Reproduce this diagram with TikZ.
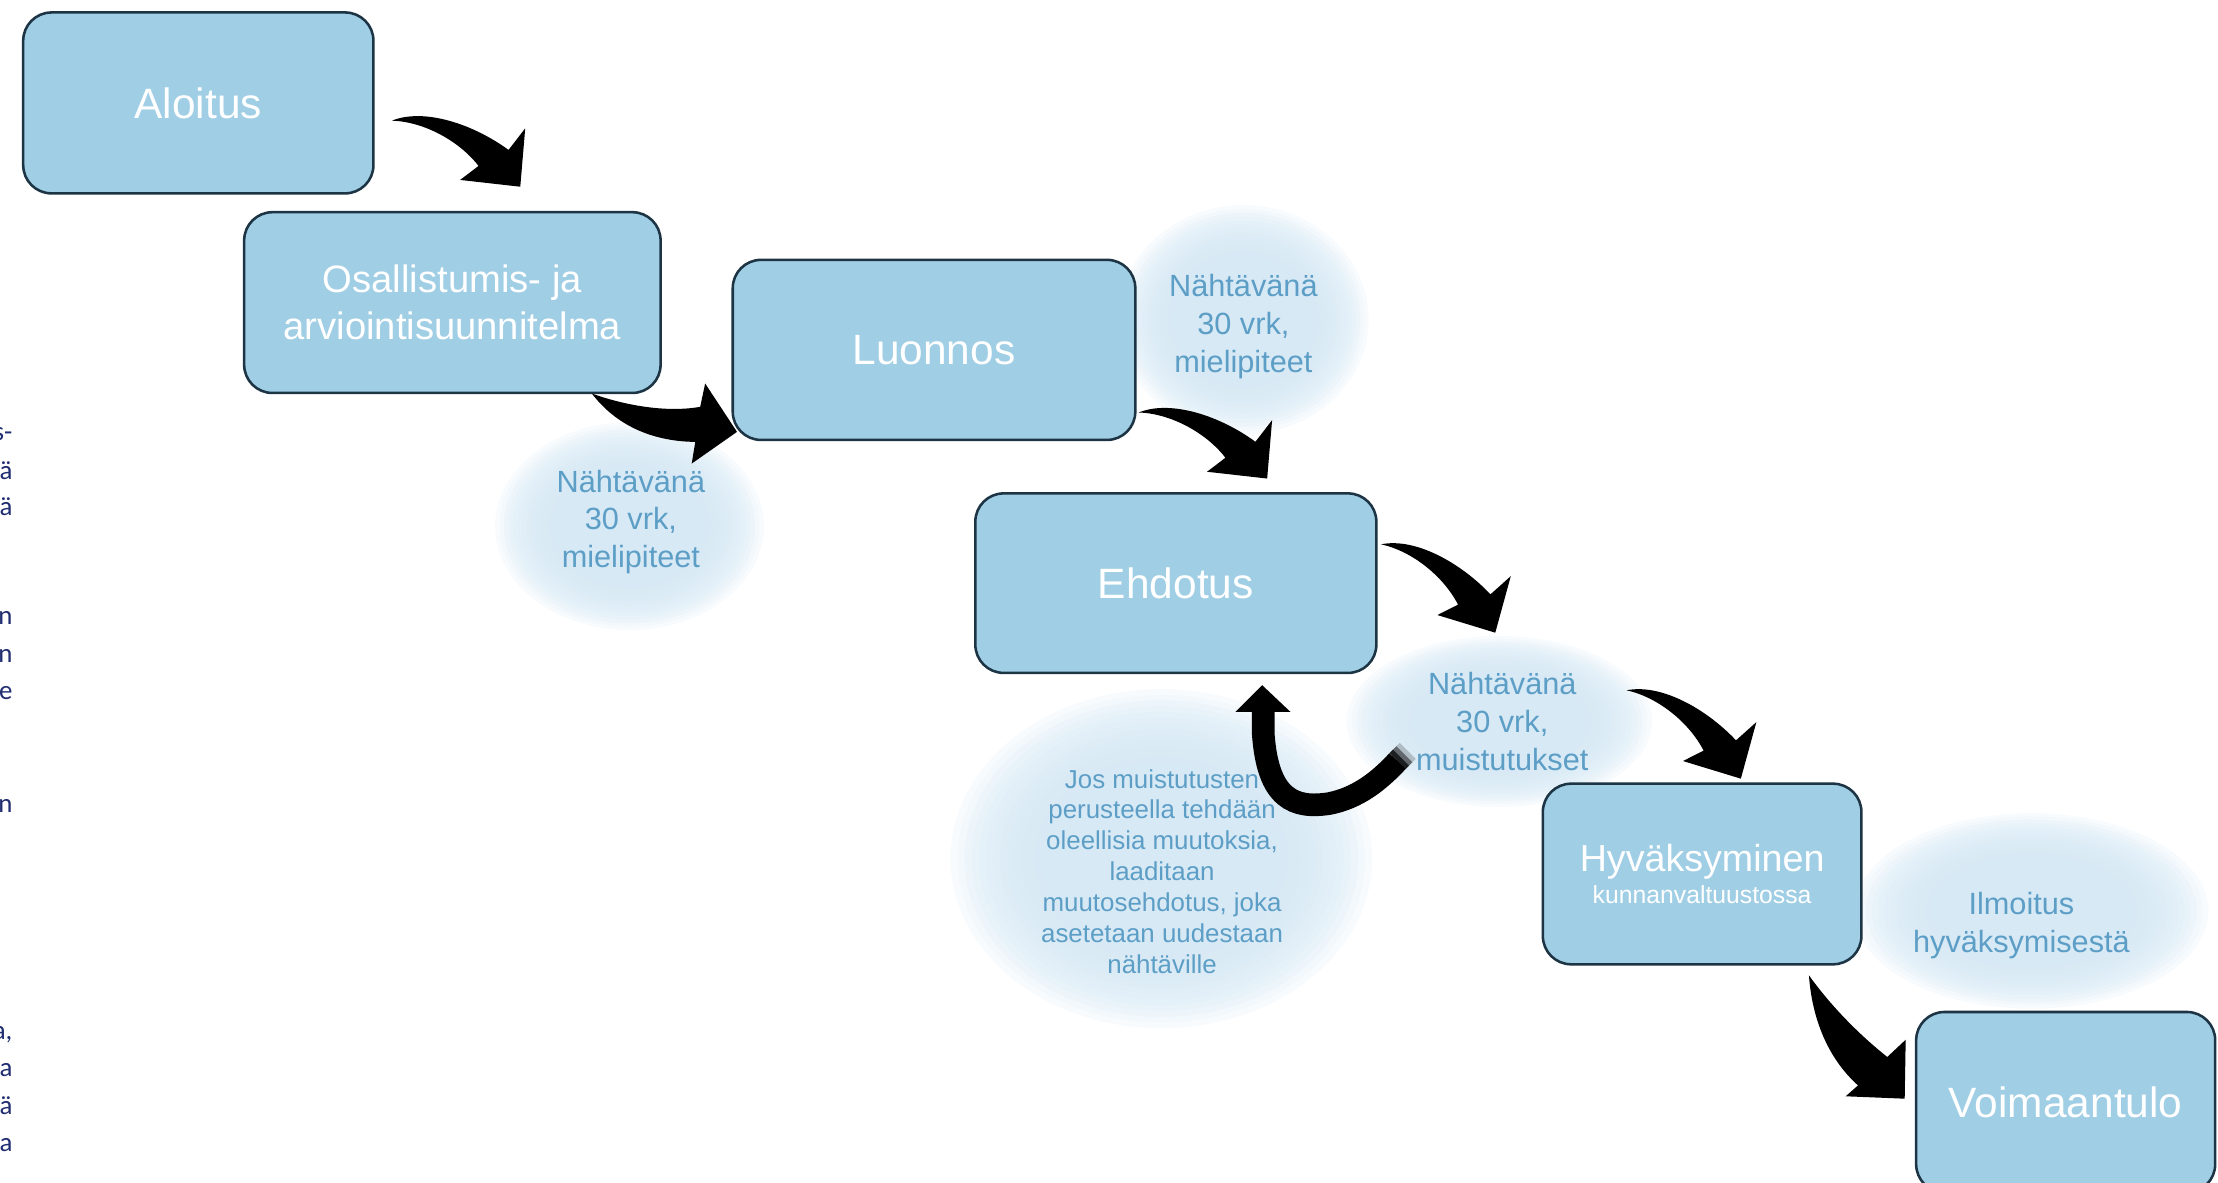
\documentclass[tikz,border=0pt]{standalone}
\usepackage{fontspec}
\setmainfont{Liberation Sans}
\newfontfamily\fragfont{Carlito}
\definecolor{boxfill}{RGB}{160,206,229}
\definecolor{boxline}{RGB}{28,52,68}
\definecolor{ellc}{RGB}{212,231,244}
\definecolor{elltext}{RGB}{92,158,198}
\definecolor{fragc}{RGB}{32,45,112}
% soft-edged ellipse: centre, x radius, y radius (in pt)
\newcommand\softellipse[3]{%
  \foreach \k in {0,...,13}{%
    \fill[ellc, opacity=0.17] #1 ellipse [x radius={#2*(1.08-0.036*\k)*1pt}, y radius={#3*(1.08-0.036*\k)*1pt}];
  }%
}
\tikzset{
  stage/.style={draw=boxline, line width=1.8pt, fill=boxfill, rounded corners=20pt,
    text=white, align=center, inner sep=0pt, font=\fontsize{30}{36}\selectfont},
  elltxt/.style={text=elltext, align=center, inner sep=0pt, font=\fontsize{21.7}{26.8}\selectfont},
  smalltxt/.style={text=elltext, align=center, inner sep=0pt, font=\fontsize{18.3}{21.8}\selectfont},
  frag/.style={text=fragc, anchor=mid east, inner sep=0pt, font=\fragfont\fontsize{19}{23}\selectfont},
  curvearrow/.pic={
    \fill[black] (0,0) .. controls (23,-9.3) and (58,2.7) .. (82.5,20.7)
      -- (94.3,5.4) -- (90.8,46.7) -- (48.3,41.9) -- (61.3,32)
      .. controls (48,14.7) and (23,0.7) .. (0,0) -- cycle;
  }
}
\begin{document}
\begin{tikzpicture}[x=1pt,y=-1pt]
\useasboundingbox (0,0) rectangle (1568,836);

% soft ellipses
\softellipse{(445,372)}{88}{68}
\softellipse{(879,226)}{82}{75}
\softellipse{(1060,510)}{100}{56}
\softellipse{(821,607)}{138}{111}
\softellipse{(1436,644)}{116}{64}

% ellipse texts
\node[elltxt] (t1) at (446,369) {Nähtävänä\\30 vrk,\\mielipiteet};
\node[elltxt] (t2) at (879,231) {Nähtävänä\\30 vrk,\\mielipiteet};
\node[elltxt] (t3) at (1062,510) {Nähtävänä\\30 vrk,\\muistutukset};
\node[smalltxt] (t4) at (821.5,616) {Jos muistutusten\\perusteella tehdään\\oleellisia muutoksia,\\laaditaan\\muutosehdotus, joka\\asetetaan uudestaan\\nähtäville};
\node[elltxt] (t5) at (1429,654) {Ilmoitus\\hyväksymisestä};

% stage boxes
\node[stage, minimum width=247.6pt, minimum height=127.9pt] (aloitus) at (140.2,72.75) {Aloitus};
\node[stage, minimum width=294.4pt, minimum height=127.8pt, font=\fontsize{27}{33}\selectfont] (osall) at (319.8,213.9) {Osallistumis- ja\\arviointisuunnitelma};
\node[stage, minimum width=284.6pt, minimum height=127.3pt] (luonnos) at (660.3,247.35) {Luonnos};
\node[stage, minimum width=283.5pt, minimum height=126.9pt] (ehdotus) at (831.25,412.25) {Ehdotus};
\node[stage, minimum width=225.2pt, minimum height=127.7pt, font=\fontsize{26.6}{22}\selectfont] (hyv) at (1203.3,617.85) {Hyväksyminen\\{\fontsize{17.5}{21}\selectfont kunnanvaltuustossa}};
\node[stage, minimum width=211.4pt, minimum height=127.6pt] (voim) at (1460.3,779.2) {Voimaantulo};

% curved block arrows
\pic at (277,85.3) {curvearrow};
\pic at (805,291.6) {curvearrow};
\pic[rotate=-10.5] at (976.3,384.8) {curvearrow};
\pic[rotate=-10.5] at (1149.9,488) {curvearrow};

% Osallistumis -> Luonnos
\fill[black] (418.4,278.2) .. controls (440,286) and (470,292) .. (495,287.6)
  -- (498.5,271.1) -- (521,305.3) -- (489,327.7) -- (491.5,312.4)
  .. controls (460,312) and (435,300) .. (418.4,278.2) -- cycle;

% Hyvaksyminen -> Voimaantulo
\fill[black] (1278.8,689.5) .. controls (1295,712) and (1315,732) .. (1334.2,747.2)
  -- (1347.2,735) -- (1346.5,776.7) -- (1304.8,775) -- (1313.5,767.3)
  .. controls (1292,748) and (1281,720) .. (1278.8,689.5) -- cycle;

% U-turn arrow back to Ehdotus
\coordinate (uhead) at (892.3,484.4);
\coordinate (utail) at (988,538);
\draw[black, line width=16pt] (893,500) -- (893,518) .. controls (896,565) and (915,572) .. (940,568)
  .. controls (960,564) and (975,552) .. (utail);
\foreach \o/\s in {0.7/3, 0.45/6, 0.2/9}{
  \draw[black, opacity=\o, line width=16pt] (utail) -- ++(0.8*\s,-0.8*\s);
}
\fill[black] (uhead) -- (912.3,503.3) -- (873.4,503.3) -- cycle;

% cut-off text fragments at the left edge
\node[frag] (f1) at (9,309) {s-};
\node[frag] (f2) at (9,336) {ä};
\node[frag] (f3) at (9,362) {ä};
\node[frag] (f4) at (9,439) {n};
\node[frag] (f5) at (9,465.5) {n};
\node[frag] (f6) at (9,492) {e};
\node[frag] (f7) at (9,572) {n};
\node[frag] (f8) at (9,732) {a,};
\node[frag] (f9) at (9,758.5) {a};
\node[frag] (f10) at (9,785) {ä};
\node[frag] (f11) at (9,811.5) {a};
\end{tikzpicture}
\end{document}
